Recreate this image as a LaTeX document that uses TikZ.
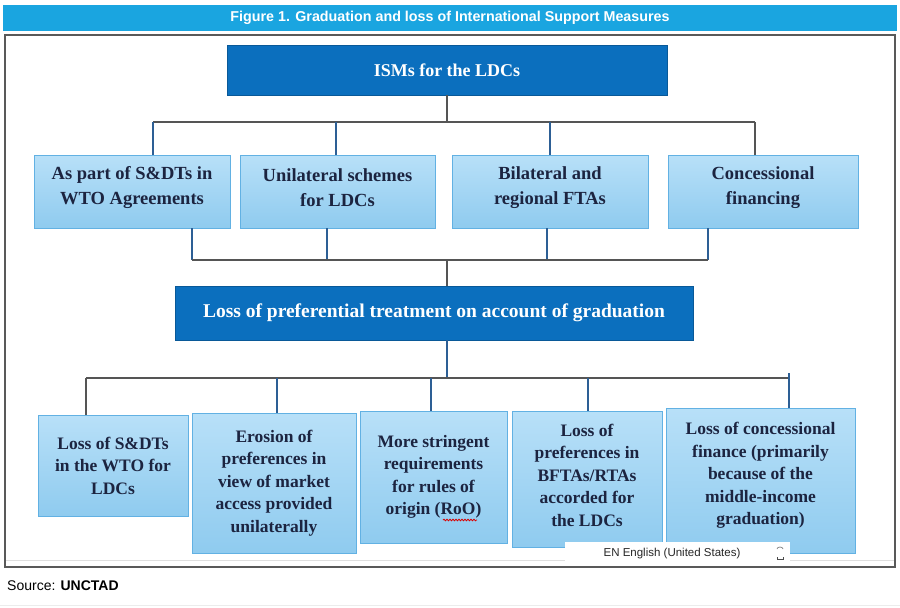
\documentclass[tikz,border=0pt]{standalone}
\usepackage{fontspec}
\setmainfont{Liberation Serif}
\setsansfont{Liberation Sans}
\usetikzlibrary{decorations.pathmorphing}
\definecolor{titlebar}{HTML}{1AA5E0}
\definecolor{darkfill}{HTML}{0B6FBE}
\definecolor{lighttop}{HTML}{B8E0F8}
\definecolor{lightbot}{HTML}{8FCBEF}
\definecolor{lightedge}{HTML}{62B1E3}
\definecolor{navytext}{HTML}{1C2440}
\definecolor{stubblue}{HTML}{2D5F95}
\definecolor{busgray}{HTML}{555555}
\begin{document}
\begin{tikzpicture}[x=1pt,y=-1pt,
  darkbox/.style={fill=darkfill, draw=darkfill!80!black, line width=0.6pt, inner sep=0pt, text=white, font=\bfseries\fontsize{18}{22}\selectfont},
  lightbox/.style={top color=lighttop, bottom color=lightbot, draw=lightedge, line width=0.8pt, inner sep=0pt, text=navytext, align=center},
  toptxt/.style={font=\bfseries\fontsize{18.5}{24.5}\selectfont, text=navytext, align=center, inner sep=0pt},
  bottxt/.style={font=\bfseries\fontsize{17.5}{22.5}\selectfont, text=navytext, align=center, inner sep=0pt},
  bus/.style={draw=busgray, line width=1.3pt},
  stub/.style={draw=stubblue, line width=1.3pt},
]
\fill[white] (0,0) rectangle (900,608);
\useasboundingbox (0,0) rectangle (900,608);

% title bar
\node[fill=titlebar, minimum width=894pt, minimum height=26pt, inner sep=0pt, text=white,
      font=\sffamily\bfseries\fontsize{14.3}{16}\selectfont] (title) at (450,17.5)
      {Figure 1. Graduation and loss of International Support Measures};

% frame
\draw[gray!25, line width=1pt] (6,560) -- (894,560);
\draw[draw=gray!70!black, line width=1.2pt] (5,35) rectangle (895,567);
\draw[gray!15, line width=1pt] (0,605) -- (900,605);

% main nodes
\node[darkbox, minimum width=440pt, minimum height=50pt] (ism) at (447,70) {ISMs for the LDCs};

\node[lightbox, minimum width=196pt, minimum height=73pt, label={[toptxt, yshift=4pt]center:{As part of S\&DTs in\\WTO Agreements}}] (t1) at (132,191.5) {};
\node[lightbox, minimum width=195pt, minimum height=73pt, label={[toptxt, yshift=4pt]center:{Unilateral schemes\\for LDCs}}] (t2) at (337.5,191.5) {};
\node[lightbox, minimum width=196pt, minimum height=73pt, label={[toptxt, yshift=4pt]center:{Bilateral and\\regional FTAs}}] (t3) at (550,191.5) {};
\node[lightbox, minimum width=190pt, minimum height=73pt, label={[toptxt, yshift=4pt]center:{Concessional\\financing}}] (t4) at (763,191.5) {};

\node[darkbox, font=\bfseries\fontsize{19.5}{22}\selectfont, minimum width=518pt, minimum height=54pt] (loss) at (434,313) {Loss of preferential treatment on account of graduation};

\node[lightbox, minimum width=150pt, minimum height=101pt, label={[bottxt]center:{Loss of S\&DTs\\in the WTO for\\LDCs}}] (b1) at (113,465.5) {};
\node[lightbox, minimum width=164pt, minimum height=140pt, label={[bottxt]center:{Erosion of\\preferences in\\view of market\\access provided\\unilaterally}}] (b2) at (274,483) {};
\node[lightbox, minimum width=147pt, minimum height=132pt, label={[bottxt]center:{More stringent\\requirements\\for rules of\\origin (RoO)}}] (b3) at (433.5,477) {};
\node[lightbox, minimum width=150pt, minimum height=136pt, label={[bottxt, yshift=4pt]center:{Loss of\\preferences in\\BFTAs/RTAs\\accorded for\\the LDCs}}] (b4) at (587,479) {};
\node[lightbox, minimum width=189pt, minimum height=145pt, label={[bottxt, yshift=5pt]center:{Loss of concessional\\finance (primarily\\because of the\\middle-income\\graduation)}}] (b5) at (760.5,480.5) {};

% junction coordinates
\coordinate (j1) at (153,122);
\coordinate (j2) at (336,122);
\coordinate (j3) at (550,122);
\coordinate (j4) at (755,122);
\coordinate (k1) at (192,260);
\coordinate (k2) at (327,260);
\coordinate (k3) at (547,260);
\coordinate (k4) at (708,260);
\coordinate (m1) at (86,378);
\coordinate (m2) at (277,378);
\coordinate (m3) at (431,378);
\coordinate (m4) at (588,378);
\coordinate (m5) at (789,378);

% top bus
\draw[bus] (ism.south) -- (ism.south |- j1);
\draw[bus] (j1) -- (j4);
\draw[stub] (j1) -- (j1 |- t1.north);
\draw[stub] (j2) -- (j2 |- t2.north);
\draw[stub] (j3) -- (j3 |- t3.north);
\draw[bus] (j4) -- (j4 |- t4.north);

% middle bus
\draw[stub] (k1 |- t1.south) -- (k1);
\draw[stub] (k2 |- t2.south) -- (k2);
\draw[stub] (k3 |- t3.south) -- (k3);
\draw[stub] (k4 |- t4.south) -- (k4);
\draw[bus] (k1) -- (k4);
\draw[bus] (ism.south |- k1) -- (ism.south |- loss.north);

% bottom bus
\draw[stub] (ism.south |- loss.south) -- (ism.south |- m1);
\draw[bus] (m1) -- (m5);
\draw[bus] (m1) -- (m1 |- b1.north);
\draw[stub] (m2) -- (m2 |- b2.north);
\draw[stub] (m3) -- (m3 |- b3.north);
\draw[stub] (m4) -- (m4 |- b4.north);
\draw[stub] ([yshift=5pt]m5) -- (m5 |- b5.north);

% spelling squiggle under RoO
\draw[red!85!black, line width=0.8pt, decorate, decoration={snake, amplitude=0.8pt, segment length=3pt}] (443,520) -- (477,520);

% language popup
\node[fill=white, minimum width=225pt, minimum height=23pt, inner sep=0pt, text=black!85,
      font=\sffamily\fontsize{11.5}{13}\selectfont] (popup) at (677.5,553.5) {\hspace*{-11pt}EN English (United States)};
\draw[gray, line width=0.7pt] (777,549) arc (180:0:3pt and 2pt);
\draw[gray!60!black, line width=0.9pt] (777,557) -- (777,559) -- (783,559) -- (783,557);

% source
\node[anchor=west, inner sep=0pt, font=\sffamily\fontsize{14}{16}\selectfont] (src) at (7,586) {Source: \textbf{UNCTAD}};
\end{tikzpicture}
\end{document}
